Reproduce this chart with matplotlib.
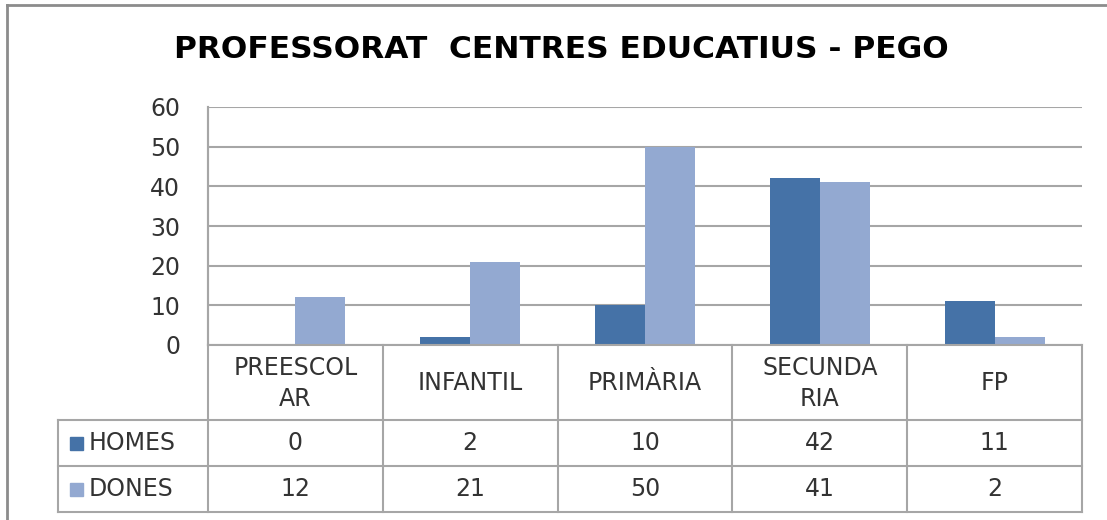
import matplotlib
matplotlib.use("Agg")
import matplotlib.pyplot as plt
from matplotlib.patches import Rectangle
from matplotlib.lines import Line2D

categories = ["PREESCOL\nAR", "INFANTIL", "PRIMÀRIA", "SECUNDA\nRIA", "FP"]
series_names = ["HOMES", "DONES"]
homes = [0, 2, 10, 42, 11]
dones = [12, 21, 50, 41, 2]
yticks = [0, 10, 20, 30, 40, 50, 60]
title = "PROFESSORAT  CENTRES EDUCATIUS - PEGO"

C_H = "#4572A7"
C_D = "#93A9D1"
GRID = "#A6A6A6"
TXT = "#333333"
FONT = "DejaVu Sans"
FS = 17

W, H = 1107, 520
fig = plt.figure(figsize=(W / 100, H / 100), dpi=100)
fig.patch.set_facecolor("white")

# pixel geometry
L, R, T, B = 208, 1082, 107, 345
ax = fig.add_axes([L / W, 1 - B / H, (R - L) / W, (B - T) / H])
n = len(categories)
x = list(range(n))
bw = 0.286
ax.bar([i - bw / 2 for i in x], homes, width=bw, color=C_H, zorder=3)
ax.bar([i + bw / 2 for i in x], dones, width=bw, color=C_D, zorder=3)
ax.set_xlim(-0.5, n - 0.5)
ax.set_ylim(0, 60)
ax.set_yticks(yticks)
ax.set_yticklabels([str(v) for v in yticks], fontsize=FS, color=TXT, family=FONT)
ax.tick_params(axis="y", length=0, pad=20)
ax.set_xticks([])
ax.yaxis.grid(True, color=GRID, linewidth=1.5, zorder=0)
for s in ["top", "right", "bottom"]:
    ax.spines[s].set_visible(False)
ax.spines["left"].set_color(GRID)
ax.spines["left"].set_linewidth(1.5)

# overlay axes in pixel coordinates for table / borders / title
ov = fig.add_axes([0, 0, 1, 1], zorder=5)
ov.set_xlim(0, W)
ov.set_ylim(H, 0)
ov.axis("off")
ov.patch.set_alpha(0)

def line(x0, y0, x1, y1, c=GRID, lw=1.5):
    ov.add_line(Line2D([x0, x1], [y0, y1], color=c, linewidth=lw))

# outer chart border (top and left visible)
line(7, 5, W, 5, c="#8C8C8C", lw=2)
line(7, 5, 7, H, c="#8C8C8C", lw=2)

ov.text(561, 49, title, ha="center", va="center", fontsize=22.5,
        fontweight="bold", color="black", family=FONT)

colw = (R - L) / n
edges = [L + i * colw for i in range(n + 1)]
y_head_top, y_row1, y_row2, y_bot = B, 420, 466, 512
tl = 58

# horizontal lines
line(L, y_head_top, R, y_head_top)
line(tl, y_row1, R, y_row1)
line(tl, y_row2, R, y_row2)
line(tl, y_bot, R, y_bot)
# vertical lines
for e in edges:
    line(e, y_head_top, e, y_bot)
line(L, T, L, B)
line(tl, y_row1, tl, y_bot)

for i, c in enumerate(categories):
    cx = (edges[i] + edges[i + 1]) / 2
    ov.text(cx, (y_head_top + y_row1) / 2 + 1, c, ha="center", va="center",
            fontsize=FS, color=TXT, family=FONT, linespacing=1.35)
    ov.text(cx, (y_row1 + y_row2) / 2, str(homes[i]), ha="center", va="center",
            fontsize=FS, color=TXT, family=FONT)
    ov.text(cx, (y_row2 + y_bot) / 2, str(dones[i]), ha="center", va="center",
            fontsize=FS, color=TXT, family=FONT)

for (y0, y1), name, col in zip([(y_row1, y_row2), (y_row2, y_bot)], series_names, [C_H, C_D]):
    cy = (y0 + y1) / 2
    ov.add_patch(Rectangle((70, cy - 6.5), 13, 13, color=col))
    ov.text(89, cy, name, ha="left", va="center", fontsize=FS, color=TXT, family=FONT)

fig.savefig("out.png", dpi=100, facecolor="white")
